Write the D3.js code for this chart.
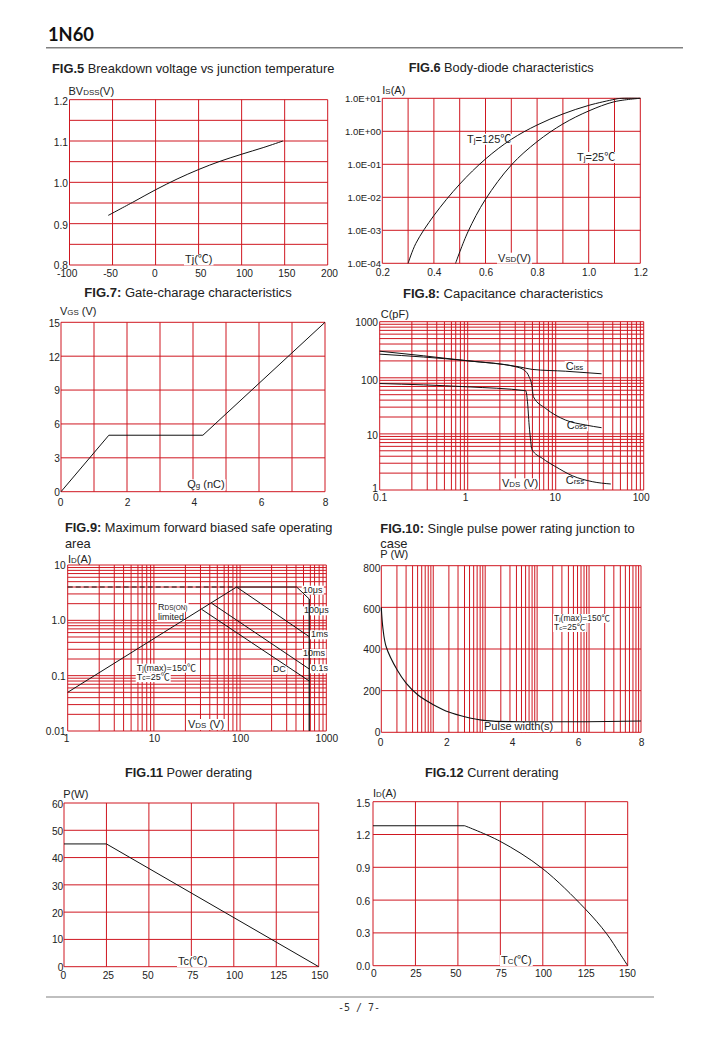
<!DOCTYPE html>
<html>
<head>
<meta charset="utf-8">
<title>1N60</title>
<script src="https://cdnjs.cloudflare.com/ajax/libs/d3/7.8.5/d3.min.js"></script>
<style>
  html, body { margin: 0; padding: 0; background: #fff; }
  svg { display: block; }
  text { font-family: "Liberation Sans", "Noto Sans CJK SC", sans-serif; fill: #222; }
</style>
</head>
<body>
<div id="page"></div>
<script>
// Fig.5 breakdown voltage
var fig5Temp = [-55, -25, 0, 25, 50, 75, 100, 125, 148];
var fig5Volt = [0.92, 0.9535, 0.982, 1.008, 1.031, 1.051, 1.068, 1.084, 1.1];

// Fig.6 body diode
var fig6Vsd125 = [0.3, 0.33, 0.4, 0.5, 0.6, 0.7, 0.8, 0.9, 1.0, 1.1, 1.12, 1.2];
var fig6Is125 = [0.0001, 0.0004, 0.0028, 0.025, 0.145, 0.57, 1.55, 3.35, 6.1, 9.3, 9.9, 10];
var fig6Vsd25 = [0.484, 0.532, 0.6, 0.7, 0.8, 0.9, 1.0, 1.1, 1.2];
var fig6Is25 = [0.0001, 0.0009, 0.0087, 0.095, 0.486, 1.67, 4.13, 7.9, 10];

// Fig.7 gate charge
var fig7Charge = [0, 1.45, 4.3, 8];
var fig7Vgs = [0, 5, 5, 15];

// Fig.8 capacitance
var cissVds = [0.1, 1, 3.84, 5.44, 13, 33.2];
var cissPf = [264, 201, 157, 141, 131, 118];
var cossVds = [0.1, 1, 3.52, 4.38, 4.99, 5.35, 5.58, 7.7, 13, 21.9, 33.2];
var cossPf = [298, 201, 157, 137, 104, 74, 45.9, 28.4, 17.6, 14.4, 12.9];
var crssVds = [0.1, 1, 4.57, 4.78, 4.99, 5.21, 5.35, 7.06, 10, 15.4, 26, 42.3];
var crssPf = [79, 69, 58.7, 37.4, 14.4, 7.25, 5.3, 3.66, 2.6, 1.8, 1.41, 1.28];

// Fig.9 safe operating area
var limitDashed = [[1, 4], [91, 4]];
var limitTop = [[91, 4], [453, 4]];
var rdsLine = [[1, 0.05], [91, 4]];
var line1ms = [[91, 4], [634, 0.507]];
var line10us = [[453, 4], [634, 2.43]];
var line01s = [[46.8, 2.03], [634, 0.132]];
var lineDc = [[35.8, 1.58], [634, 0.08]];
var lineVmax = [[634, 2.43], [634, 0.01]];

// Fig.10 pulse power
var pulseWidth = [0, 0.05, 0.15, 0.49, 0.77, 1.13, 1.59, 2.1, 2.57, 3.23, 4.26, 6.3, 8];
var pulsePower = [600, 499, 411, 299, 235, 179, 134, 96, 75, 56, 51, 51, 54];

// Fig.11 power derating
var powerTemp = [0, 25, 150];
var powerWatt = [45, 45, 0];

// Fig.12 current derating
var currentFlatTemp = [0, 54];
var currentFlatAmp = [1.28, 1.28];
var currentTemp = [54, 74.6, 99.7, 124.7, 137.4, 145.3, 150];
var currentAmp = [1.28, 1.14, 0.89, 0.524, 0.296, 0.113, 0];

// positions of the minor lines inside one decade on the log x grids of fig 8 and 9
var minorSteps = [1, 2.32, 3.47, 4.45, 5.44, 6.53, 7.31, 8.26, 9.16];
var logSteps = [1, 2, 3, 4, 5, 6, 7, 8, 9];

function decades(from, count, steps) {
  var out = [];
  for (var i = 0; i < count; i++) {
    steps.forEach(function(s) { out.push(from * Math.pow(10, i) * s); });
  }
  out.push(from * Math.pow(10, count));
  return out;
}

function zip(a, b) {
  return a.map(function(v, i) { return [v, b[i]]; });
}

var svg = d3.select("#page").append("svg")
  .attr("width", 706)
  .attr("height", 1041);

var RED = "#cf1720";
var SMALL = 0.72;

// parts: strings are normal size, [string] is the small lowered letters of the data sheet
function putText(x, y, parts, size, opts) {
  opts = opts || {};
  var g = svg.append("g");
  var t = g.append("text")
    .attr("x", x)
    .attr("y", y)
    .attr("font-size", size);
  parts.forEach(function(p) {
    if (typeof p === "string") {
      t.append("tspan").text(p);
    } else if (p.bold) {
      t.append("tspan").attr("font-weight", "bold").text(p.bold);
    } else {
      t.append("tspan").attr("font-size", size * SMALL).text(p[0]);
    }
  });
  if (opts.bg) {
    var box = t.node().getBBox();
    g.insert("rect", "text")
      .attr("x", box.x - 1)
      .attr("y", box.y + 1)
      .attr("width", box.width + 2)
      .attr("height", box.height - 1)
      .attr("fill", "#fff");
  }
}

function drawChart(c) {
  // grid
  var gridX = c.gridX || c.x;
  svg.append("g").selectAll("line")
    .data(c.xGrid)
    .enter()
    .append("line")
    .attr("x1", function(d) { return gridX(d); })
    .attr("x2", function(d) { return gridX(d); })
    .attr("y1", c.y.range()[0])
    .attr("y2", c.y.range()[1])
    .attr("stroke", RED);
  svg.append("g").selectAll("line")
    .data(c.yGrid)
    .enter()
    .append("line")
    .attr("x1", gridX.range()[0])
    .attr("x2", gridX.range()[1])
    .attr("y1", function(d) { return c.y(d); })
    .attr("y2", function(d) { return c.y(d); })
    .attr("stroke", RED);

  // tick labels
  var bottom = d3.axisBottom(c.x)
    .tickValues(c.xTicks)
    .tickSize(0)
    .tickPadding(0)
    .tickFormat(function(d, i) { return c.xLabels[i]; });
  var left = d3.axisLeft(c.y)
    .tickValues(c.yTicks)
    .tickSize(0)
    .tickPadding(0)
    .tickFormat(function(d, i) { return c.yLabels[i]; });

  var ax = svg.append("g")
    .attr("transform", "translate(0," + c.xAxisAt + ")")
    .call(bottom);
  var ay = svg.append("g")
    .attr("transform", "translate(" + c.yAxisAt + ",0)")
    .call(left);
  [ax, ay].forEach(function(a) {
    a.select(".domain").remove();
    a.attr("font-family", null).attr("font-size", null);
    a.selectAll("text").attr("font-size", 10.2).style("fill", "#222");
  });
  if (c.yTickSize) ay.selectAll("text").attr("font-size", c.yTickSize);
  ax.selectAll("text").attr("dx", function(d, i) { return c.xNudge ? c.xNudge[i] : 0; });
  ay.selectAll("text").attr("dy", function(d, i) { return (c.yNudge ? c.yNudge[i] : 0) + 3.4; });

  // labels first because their white boxes cut the grid, curves stay on top
  (c.notes || []).forEach(function(n) {
    putText(n.x, n.y, n.parts, n.size || 11, { bg: n.bg });
  });

  var path = d3.line()
    .x(function(d) { return c.x(d[0]); })
    .y(function(d) { return c.y(d[1]); });
  (c.curves || []).forEach(function(k) {
    svg.append("path")
      .attr("d", path.curve(k.curve || d3.curveLinear)(k.data))
      .attr("fill", "none")
      .attr("stroke", "#111")
      .attr("stroke-width", k.width || 1)
      .attr("stroke-dasharray", k.dash || null);
  });
}

// page head and foot
svg.append("text")
  .attr("x", 48)
  .attr("y", 40.7)
  .attr("font-size", 19.5)
  .attr("font-weight", "bold")
  .attr("textLength", 46)
  .attr("lengthAdjust", "spacingAndGlyphs")
  .style("font-family", "Lato")
  .style("fill", "#111")
  .text("1N60");
svg.append("line")
  .attr("x1", 46).attr("x2", 683)
  .attr("y1", 47.7).attr("y2", 47.7)
  .attr("stroke", "#808080")
  .attr("stroke-width", 1.6);
svg.append("line")
  .attr("x1", 46).attr("x2", 654)
  .attr("y1", 997).attr("y2", 997)
  .attr("stroke", "#808080")
  .attr("stroke-width", 1.2);
svg.append("text")
  .attr("x", 338)
  .attr("y", 1011)
  .attr("font-size", 10)
  .style("font-family", "DejaVu Sans Mono")
  .style("fill", "#333")
  .text("-5 / 7-");

putText(52, 73, [{ bold: "FIG.5" }, " Breakdown voltage vs junction temperature"], 12.87);
putText(408.7, 71.7, [{ bold: "FIG.6" }, " Body-diode characteristics"], 12.75);
putText(84.3, 297, [{ bold: "FIG.7:" }, " Gate-charage characteristics"], 13.05);
putText(403, 297.7, [{ bold: "FIG.8:" }, " Capacitance characteristics"], 13.05);
putText(65, 532, [{ bold: "FIG.9:" }, " Maximum forward biased safe operating"], 12.8);
putText(65, 547.7, ["area"], 12.8);
putText(380.3, 533.3, [{ bold: "FIG.10:" }, " Single pulse power rating junction to"], 12.9);
putText(380.3, 548, ["case"], 12.9);
putText(125, 777, [{ bold: "FIG.11" }, " Power derating"], 12.7);
putText(425, 777, [{ bold: "FIG.12" }, " Current derating"], 12.65);

// FIG.5
drawChart({
  x: d3.scaleLinear().domain([-100, 200]).range([69.5, 327.7]),
  y: d3.scaleLinear().domain([0.8, 1.2]).range([265, 99.67]),
  xGrid: d3.range(-100, 201, 50),
  yGrid: d3.range(0, 9).map(function(i) { return 0.8 + i * 0.05; }),
  xTicks: [-100, -50, 0, 50, 100, 150, 200],
  xLabels: ["-100", "-50", "0", "50", "100", "150", "200"],
  xNudge: [-2.8, -2.5, -1.3, 1.7, 2.4, 1.7, 1.3],
  xAxisAt: 270.2,
  yTicks: [0.8, 0.9, 1.0, 1.1, 1.2],
  yLabels: ["0.8", "0.9", "1.0", "1.1", "1.2"],
  yNudge: [-0.3, 1, 0.4, 0.7, 1.3],
  yAxisAt: 68,
  notes: [
    { x: 68.5, y: 95, parts: ["BV", ["DSS"], "(V)"] },
    { x: 185, y: 263.4, parts: ["Tj(", "℃", ")"], bg: true }
  ],
  curves: [{ data: zip(fig5Temp, fig5Volt), curve: d3.curveCatmullRom }]
});

// FIG.6
drawChart({
  x: d3.scaleLinear().domain([0.2, 1.2]).range([382.3, 640.3]),
  y: d3.scaleLog().domain([0.0001, 10]).range([263.3, 98.3]),
  xGrid: d3.range(2, 13).map(function(i) { return i / 10; }),
  yGrid: [0.0001, 0.001, 0.01, 0.1, 1, 10],
  xTicks: [0.2, 0.4, 0.6, 0.8, 1.0, 1.2],
  xLabels: ["0.2", "0.4", "0.6", "0.8", "1.0", "1.2"],
  xAxisAt: 268.5,
  yTicks: [0.0001, 0.001, 0.01, 0.1, 1, 10],
  yLabels: ["1.0E-04", "1.0E-03", "1.0E-02", "1.0E-01", "1.0E+00", "1.0E+01"],
  yTickSize: 9.6,
  yAxisAt: 381,
  notes: [
    { x: 382.3, y: 94, parts: ["I", ["S"], "(A)"] },
    { x: 467, y: 142.7, parts: ["T", ["j"], "=125℃"], bg: true },
    { x: 577, y: 161, parts: ["T", ["j"], "=25℃"], bg: true },
    { x: 498, y: 261.7, parts: ["V", ["SD"], "(V)"], bg: true }
  ],
  curves: [
    { data: zip(fig6Vsd125, fig6Is125), curve: d3.curveCatmullRom },
    { data: zip(fig6Vsd25, fig6Is25), curve: d3.curveCatmullRom }
  ]
});

// FIG.7
drawChart({
  x: d3.scaleLinear().domain([0, 8]).range([61, 325]),
  y: d3.scaleLinear().domain([0, 15]).range([491.7, 322.3]),
  xGrid: d3.range(0, 9),
  yGrid: d3.range(0, 16, 3),
  xTicks: [0, 2, 4, 6, 8],
  xLabels: ["0", "2", "4", "6", "8"],
  xNudge: [-1, 0, 0.7, 2, 0],
  xAxisAt: 498.5,
  yTicks: [0, 3, 6, 9, 12, 15],
  yLabels: ["0", "3", "6", "9", "12", "15"],
  yNudge: [0, 0, 0, 0, 0.5, 1],
  yAxisAt: 60,
  notes: [
    { x: 60, y: 315, parts: ["V", ["GS"], " (V)"] },
    { x: 187.3, y: 488.3, parts: ["Q", ["g"], " (nC)"], bg: true }
  ],
  curves: [{ data: zip(fig7Charge, fig7Vgs) }]
});

// FIG.8
drawChart({
  x: d3.scaleLog().domain([0.1, 100]).range([379.7, 643.7]),
  y: d3.scaleLog().domain([1, 1000]).range([490, 321.7]),
  xGrid: decades(0.1, 3, minorSteps),
  yGrid: decades(1, 3, logSteps),
  xTicks: [0.1, 1, 10, 100],
  xLabels: ["0.1", "1", "10", "100"],
  xNudge: [0, -2.7, -1, -3],
  xAxisAt: 493.9,
  yTicks: [1, 10, 100, 1000],
  yLabels: ["1", "10", "100", "1000"],
  yNudge: [-1.7, 1, 2.3, 0],
  yAxisAt: 378,
  notes: [
    { x: 380.7, y: 318.3, parts: ["C(pF)"] },
    { x: 502, y: 487.3, parts: ["V", ["DS"], " (V)"], bg: true },
    { x: 565.7, y: 370, parts: ["C", ["iss"]], bg: true },
    { x: 566.7, y: 429.3, parts: ["C", ["oss"]], bg: true },
    { x: 565.7, y: 484.3, parts: ["C", ["rss"]], bg: true }
  ],
  curves: [
    { data: zip(cissVds, cissPf), curve: d3.curveMonotoneX },
    { data: zip(cossVds, cossPf), curve: d3.curveMonotoneX },
    { data: zip(crssVds, crssPf), curve: d3.curveMonotoneX }
  ]
});

// FIG.9
drawChart({
  x: d3.scaleLog().domain([1, 1000]).range([67.7, 326.3]),
  y: d3.scaleLog().domain([0.01, 10]).range([731, 565]),
  xGrid: decades(1, 3, minorSteps),
  yGrid: decades(0.01, 3, logSteps),
  xTicks: [1, 10, 100, 1000],
  xLabels: ["1", "10", "100", "1000"],
  xNudge: [-1.7, 0, 0, 0],
  xAxisAt: 734.5,
  yTicks: [0.01, 0.1, 1, 10],
  yLabels: ["0.01", "0.1", "1.0", "10"],
  yAxisAt: 65.7,
  notes: [
    { x: 68, y: 562.7, parts: ["I", ["D"], "(A)"] },
    { x: 188, y: 728, parts: ["V", ["DS"], " (V)"], bg: true },
    { x: 158, y: 610, parts: ["R", ["DS(ON)"]], size: 9, bg: true },
    { x: 158, y: 619.5, parts: ["limited"], size: 9, bg: true },
    { x: 136.7, y: 670.7, parts: ["T", ["j"], "(max)=150℃"], size: 9, bg: true },
    { x: 136.7, y: 680, parts: ["T", ["c"], "=25℃"], size: 9, bg: true },
    { x: 302.7, y: 592.7, parts: ["10μs"], size: 9, bg: true },
    { x: 304, y: 613.3, parts: ["100μs"], size: 9, bg: true },
    { x: 311, y: 637.3, parts: ["1ms"], size: 9, bg: true },
    { x: 303, y: 656, parts: ["10ms"], size: 9, bg: true },
    { x: 311, y: 671.3, parts: ["0.1s"], size: 9, bg: true },
    { x: 272.7, y: 672.3, parts: ["DC"], size: 9, bg: true }
  ],
  curves: [
    { data: limitDashed, dash: "5 3", width: 1.2 },
    { data: limitTop, width: 1 },
    { data: rdsLine },
    { data: line1ms },
    { data: line10us },
    { data: line01s },
    { data: lineDc },
    { data: lineVmax, width: 1.3 }
  ]
});

// FIG.10 the grid of this one is a log grid under a linear axis
drawChart({
  x: d3.scaleLinear().domain([0, 8]).range([381.3, 641]),
  gridX: d3.scaleLog().domain([1, 100000]).range([381.3, 641]),
  y: d3.scaleLinear().domain([0, 800]).range([732.3, 565.7]),
  xGrid: decades(1, 5, logSteps),
  yGrid: [0, 200, 400, 600, 800],
  xTicks: [0, 2, 4, 6, 8],
  xLabels: ["0", "2", "4", "6", "8"],
  xNudge: [-1.3, 0, 1, 2, 0],
  xAxisAt: 739,
  yTicks: [0, 200, 400, 600, 800],
  yLabels: ["0", "200", "400", "600", "800"],
  yNudge: [0, 0.6, 0.3, 1.3, 2],
  yAxisAt: 380.3,
  notes: [
    { x: 380.3, y: 558, parts: ["P (W)"] },
    { x: 484, y: 730, parts: ["Pulse width(s)"], bg: true },
    { x: 554, y: 621, parts: ["T", ["j"], "(max)=150℃"], size: 8.5, bg: true },
    { x: 554, y: 630, parts: ["T", ["c"], "=25℃"], size: 8.5, bg: true }
  ],
  curves: [{ data: zip(pulseWidth, pulsePower), curve: d3.curveCatmullRom, width: 1.1 }]
});

// FIG.11
drawChart({
  x: d3.scaleLinear().domain([0, 150]).range([64, 318.7]),
  y: d3.scaleLinear().domain([0, 60]).range([966.7, 803]),
  xGrid: d3.range(0, 151, 25),
  yGrid: d3.range(0, 61, 10),
  xTicks: [0, 25, 50, 75, 100, 125, 150],
  xLabels: ["0", "25", "50", "75", "100", "125", "150"],
  xNudge: [-1.3, 1.4, -1.4, 1, 0.3, 2, 0.6],
  xAxisAt: 971.9,
  yTicks: [0, 10, 20, 30, 40, 50, 60],
  yLabels: ["0", "10", "20", "30", "40", "50", "60"],
  yNudge: [0.6, 0, 1.2, 0.9, 0.7, 0.4, 1],
  yAxisAt: 63.3,
  notes: [
    { x: 63.3, y: 797.7, parts: ["P(W)"] },
    { x: 178, y: 965, parts: ["Tc(℃)"], bg: true }
  ],
  curves: [{ data: zip(powerTemp, powerWatt) }]
});

// FIG.12
drawChart({
  x: d3.scaleLinear().domain([0, 150]).range([373, 627.7]),
  y: d3.scaleLinear().domain([0, 1.5]).range([965.7, 801.7]),
  xGrid: d3.range(0, 151, 25),
  yGrid: [0, 0.3, 0.6, 0.9, 1.2, 1.5],
  xTicks: [0, 25, 50, 75, 100, 125, 150],
  xLabels: ["0", "25", "50", "75", "100", "125", "150"],
  xNudge: [0.3, 0, -2.6, 0.4, 0.2, 0.5, -0.7],
  xAxisAt: 970.2,
  yTicks: [0, 0.3, 0.6, 0.9, 1.2, 1.5],
  yLabels: ["0.0", "0.3", "0.6", "0.9", "1.2", "1.5"],
  yNudge: [0, 0.4, 0.6, 0.7, 0.5, 1.6],
  yAxisAt: 370.3,
  notes: [
    { x: 373, y: 797.3, parts: ["I", ["D"], "(A)"] },
    { x: 501, y: 964, parts: ["T", ["C"], "(℃)"], bg: true }
  ],
  curves: [
    { data: zip(currentFlatTemp, currentFlatAmp) },
    { data: zip(currentTemp, currentAmp), curve: d3.curveCatmullRom }
  ]
});
</script>
</body>
</html>
